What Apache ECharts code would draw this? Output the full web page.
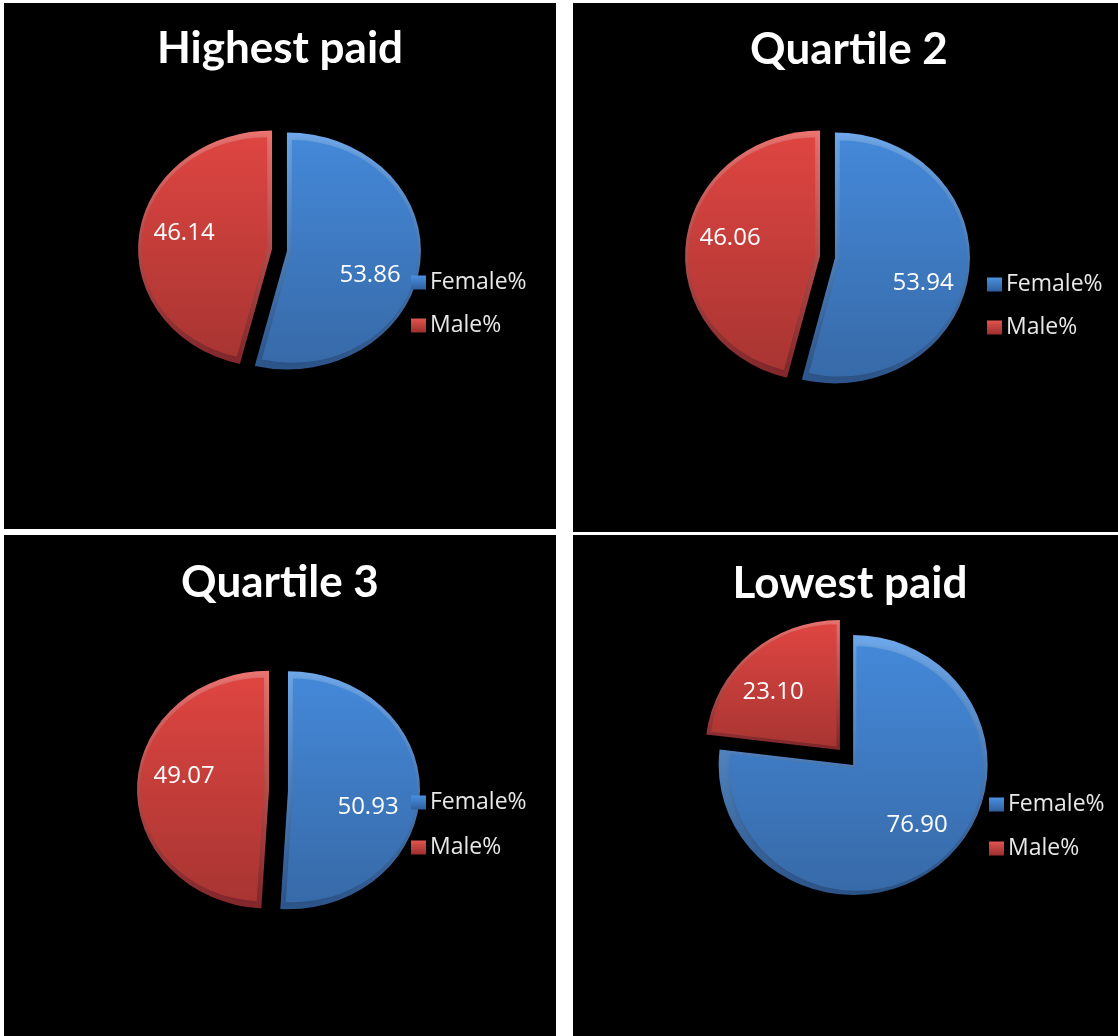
<!DOCTYPE html>
<html><head><meta charset="utf-8">
<style>html,body{margin:0;padding:0;background:#fff}#c{width:1118px;height:1036px}</style>
<script src="https://cdn.jsdelivr.net/npm/echarts@6/dist/echarts.min.js"></script>
</head><body><div id="c"></div>
<script>
var panelTitles = ['Highest paid', 'Quartile 2', 'Quartile 3', 'Lowest paid'];
var sliceNames = ['Female%', 'Male%'];
var femaleValues = [53.86, 53.94, 50.93, 76.90];
var maleValues = [46.14, 46.06, 49.07, 23.10];

var FONT = 'Lato, "Open Sans", sans-serif';
var layout = [
  {box:[4,3,552,526],   titleX:280, titleY:27,  c:[279.5,250], rx:134, ry:118.5, d:7.5, legend:[411,271], gap:20, labels:[[370,275],[184,233]]},
  {box:[573,3,545,529], titleX:849, titleY:28,  c:[827.5,257], rx:135, ry:125.5, d:7.5, legend:[987,273], gap:20, labels:[[923,283],[730,238]]},
  {box:[4,535,552,501], titleX:280, titleY:561, c:[278.5,790], rx:132, ry:119,   d:9.5, legend:[411,791], gap:22, labels:[[368,807],[184,776]]},
  {box:[573,535,545,501],titleX:850,titleY:562, c:[846.5,757.5],rx:134.5,ry:130, d:10,  legend:[989,793], gap:21, labels:[[917,825],[773,692]]}
];
function grad(a, b){ return new echarts.graphic.LinearGradient(0,0,0,1,[{offset:0,color:a},{offset:1,color:b}]); }
var palette = [
  {rim:['#6ea8ea','#2c5489'], fill:['#4488d8','#376aa8'], legend:['#4a90e0','#2f5f9e']},
  {rim:['#ec7470','#82262a'], fill:['#de4541','#a83532'], legend:['#e25450','#9c2f2c']}
];

function sliceSeries(panelIdx, sliceIdx, value, startFrac){
  var L = layout[panelIdx], P = palette[sliceIdx];
  return {
    type:'custom', name:sliceNames[sliceIdx], coordinateSystem:'none', silent:true, animation:false,
    itemStyle:{color:grad(P.legend[0],P.legend[1])},
    data:[[value]],
    renderItem:function(params, api){
      var v = api.value(0), frac = v/100;
      var a0 = -Math.PI/2 + startFrac*2*Math.PI, a1 = a0 + frac*2*Math.PI, mid = (a0+a1)/2;
      var k = L.ry/L.rx;
      var px = L.c[0] + Math.cos(mid)*L.d, py = L.c[1] + Math.sin(mid)*L.d;
      var inset = 5;
      var tx = L.labels[sliceIdx][0], ty = L.labels[sliceIdx][1];
      return {type:'group', children:[
        {type:'sector', x:px, y:py, scaleY:k,
         shape:{cx:0,cy:0,r0:0,r:L.rx,startAngle:a0,endAngle:a1,clockwise:true},
         style:{fill:grad(P.rim[0],P.rim[1])}},
        {type:'sector', x:px+Math.cos(mid)*inset, y:py+Math.sin(mid)*inset*k, scaleY:k,
         shape:{cx:0,cy:0,r0:0,r:L.rx-inset*1.6,startAngle:a0,endAngle:a1,clockwise:true},
         style:{fill:grad(P.fill[0],P.fill[1]), shadowBlur:5, shadowColor:'rgba(0,0,0,0.12)'}},
        {type:'text', x:tx, y:ty, z2:10,
         style:{text:v.toFixed(2), fill:'#fff', font:'24px "Open Sans", sans-serif', align:'center', verticalAlign:'middle'}}
      ]};
    }
  };
}

var series = [], titles = [], legends = [], rects = [];
panelTitles.forEach(function(t, i){
  var L = layout[i];
  series.push(sliceSeries(i, 0, femaleValues[i], 0));
  series.push(sliceSeries(i, 1, maleValues[i], femaleValues[i]/100));
  titles.push({text:t, left:L.titleX, top:L.titleY, textAlign:'center', padding:0,
    textStyle:{color:'#fff', fontFamily:FONT, fontWeight:'bold', fontSize:44}});
  legends.push({data:sliceNames, orient:'vertical', left:L.legend[0], top:L.legend[1], padding:0,
    selectedMode:false, icon:'rect', itemWidth:15, itemHeight:14, itemGap:L.gap,
    textStyle:{color:'#e8e8e8', fontFamily:'"Open Sans", sans-serif', fontSize:23, padding:[0,0,0,-1]}});
  rects.push({type:'rect', silent:true, z:-5, shape:{x:L.box[0],y:L.box[1],width:L.box[2],height:L.box[3]}, style:{fill:'#000'}});
});

var chart = echarts.init(document.getElementById('c'), null, {renderer:'canvas'});
chart.setOption({animation:false, backgroundColor:'#fff', title:titles, legend:legends, graphic:rects, series:series});
</script></body></html>
